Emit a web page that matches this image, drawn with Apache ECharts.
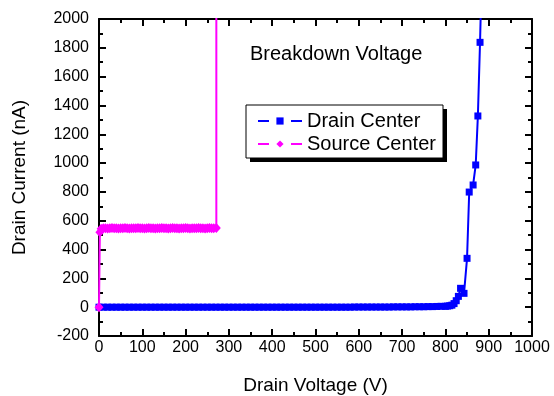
<!DOCTYPE html>
<html>
<head>
<meta charset="utf-8">
<script src="https://cdn.jsdelivr.net/npm/echarts@6/dist/echarts.min.js"></script>
<style>
  html, body { margin: 0; padding: 0; background: #fff; }
  #chart { width: 554px; height: 396px; }
</style>
</head>
<body>
<div id="chart"></div>
<script>
// drain center sweep (V, nA)
const drainVoltage = [
  0, 10, 20, 30, 40, 50, 60, 70, 80, 90, 100, 110, 120, 130, 140, 150, 160, 170, 180, 190,
  200, 210, 220, 230, 240, 250, 260, 270, 280, 290, 300, 310, 320, 330, 340, 350, 360, 370, 380, 390,
  400, 410, 420, 430, 440, 450, 460, 470, 480, 490, 500, 510, 520, 530, 540, 550, 560, 570, 580, 590,
  600, 610, 620, 630, 640, 650, 660, 670, 680, 690, 700, 710, 720, 730, 740, 750, 760, 770, 780, 790,
  800, 805, 810, 815, 820, 825, 830, 835, 843, 850, 855, 864, 870, 875, 880, 885
];
const drainCurrent = [
  0, 0, 0, 0, 0, 0, 0, 0, 0, 0, 0, 0, 0, 0, 0, 0, 0, 0, 0, 0,
  0, 0, 0, 0, 0, 0, 0, 0, 0, 0, 0, 0, 0, 0, 0, 0, 0, 0, 0, 0,
  0, 0, 0, 0, 0, 0, 0, 0, 0, 0, 0, 0, 0, 0, 0, 0, 0, 0, 0, 1,
  1, 1, 1, 1, 1, 1, 1, 1, 2, 2, 2, 2, 2, 3, 3, 3, 4, 4, 5, 6,
  6, 8, 10, 14, 25, 45, 75, 131, 96, 339, 799, 848, 987, 1327, 1838, 2450
];

// source center sweep (V, nA)
const sourceVoltage = [
  0, 2, 5, 10, 15, 20, 25, 30, 35, 40, 45, 50, 55, 60, 65, 70, 75, 80, 85, 90,
  95, 100, 105, 110, 115, 120, 125, 130, 135, 140, 145, 150, 155, 160, 165, 170, 175, 180, 185, 190,
  195, 200, 205, 210, 215, 220, 225, 230, 235, 240, 245, 250, 255, 260, 265, 271, 271
];
const sourceCurrent = [
  0, 520, 545, 547, 548, 546, 548, 549, 547, 548, 546, 548, 547, 549, 548, 546, 548, 547, 548, 549,
  547, 548, 546, 548, 549, 547, 548, 546, 548, 547, 549, 548, 547, 546, 548, 549, 547, 548, 546, 548,
  547, 549, 548, 546, 548, 547, 548, 549, 547, 548, 546, 548, 549, 548, 547, 550, 2600
];

const xTicks = { min: 0, max: 1000, interval: 100 };
const yTicks = { min: -200, max: 2000, interval: 200 };

const font = "Liberation Sans";

const chart = echarts.init(document.getElementById("chart"));

const axisCommon = {
  type: "value",
  axisLine: { show: true, onZero: false, lineStyle: { color: "#000", width: 2 } },
  axisTick: { show: true, inside: true, length: 7, lineStyle: { color: "#000", width: 2 } },
  minorTick: { show: true, splitNumber: 2, length: 4, lineStyle: { color: "#000", width: 2 } },
  splitLine: { show: false },
};

const option = {
  animation: false,
  backgroundColor: "#fff",
  textStyle: { fontFamily: font },
  title: {
    text: "Breakdown Voltage",
    left: 250,
    top: 44,
    padding: 0,
    textStyle: { fontFamily: font, fontSize: 20, fontWeight: "normal", color: "#000" },
  },
  // legend frame with its drop shadow
  graphic: [
    {
      type: "rect",
      z: 10,
      shape: { x: 250, y: 109, width: 197, height: 53 },
      style: { fill: "#000" },
    },
    {
      type: "rect",
      z: 11,
      shape: { x: 246, y: 105, width: 197, height: 53 },
      style: { fill: "#fff", stroke: "#000", lineWidth: 1 },
    },
  ],
  legend: {
    z: 20,
    orient: "vertical",
    left: 246,
    top: 108,
    padding: [3, 8, 3, 11],
    itemGap: 3,
    itemWidth: 44,
    itemHeight: 9,
    lineStyle: { type: [11, 22] },
    textStyle: { fontFamily: font, fontSize: 20, color: "#000" },
    data: ["Drain Center", "Source Center"],
  },
  grid: { left: 99, right: 22, top: 19, bottom: 60, containLabel: false, outerBoundsMode: "none" },
  xAxis: [
    Object.assign({}, axisCommon, xTicks, {
      position: "bottom",
      name: "Drain Voltage (V)",
      nameLocation: "middle",
      nameGap: 40,
      nameTextStyle: { fontFamily: font, fontSize: 19, color: "#000" },
      axisLabel: { fontFamily: font, fontSize: 16, color: "#000", margin: 4, formatter: (v) => String(v) },
    }),
    Object.assign({}, axisCommon, xTicks, {
      position: "top",
      axisLabel: { show: false },
    }),
  ],
  yAxis: [
    Object.assign({}, axisCommon, yTicks, {
      position: "left",
      name: "Drain Current (nA)",
      nameLocation: "middle",
      nameGap: 70,
      nameTextStyle: { fontFamily: font, fontSize: 19, color: "#000" },
      axisLabel: { fontFamily: font, fontSize: 16, color: "#000", margin: 10, formatter: (v) => String(v) },
    }),
    Object.assign({}, axisCommon, yTicks, {
      position: "right",
      axisLabel: { show: false },
    }),
  ],
  series: [
    {
      name: "Drain Center",
      type: "line",
      xAxisIndex: 0,
      yAxisIndex: 0,
      data: drainVoltage.map((v, i) => [v, drainCurrent[i]]),
      symbol: "rect",
      symbolSize: 7,
      showAllSymbol: true,
      clip: true,
      color: "#0000ff",
      lineStyle: { color: "#0000ff", width: 2 },
      itemStyle: { color: "#0000ff" },
    },
    {
      name: "Source Center",
      type: "line",
      xAxisIndex: 0,
      yAxisIndex: 0,
      data: sourceVoltage.map((v, i) => [v, sourceCurrent[i]]),
      symbol: "diamond",
      symbolSize: [9, 10],
      showAllSymbol: true,
      clip: true,
      color: "#ff00ff",
      lineStyle: { color: "#ff00ff", width: 2 },
      itemStyle: { color: "#ff00ff" },
    },
  ],
};

chart.setOption(option);
</script>
</body>
</html>
